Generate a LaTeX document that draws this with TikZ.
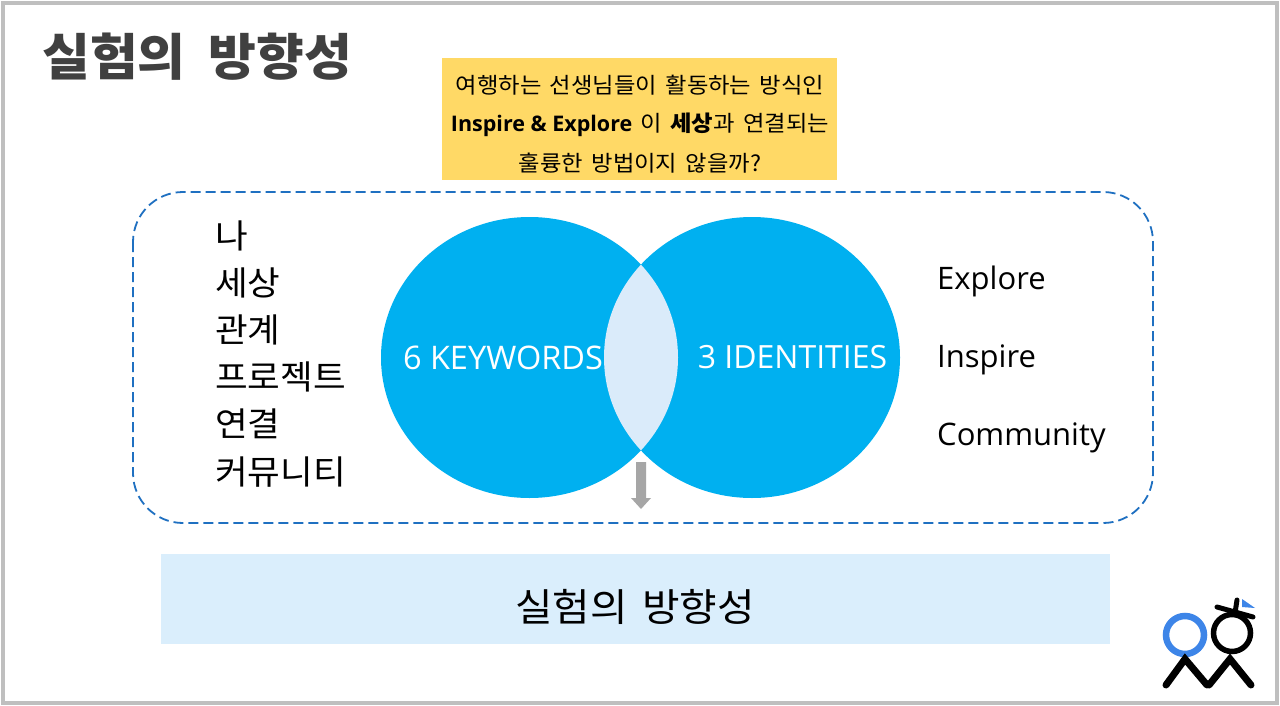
\documentclass[tikz,border=0pt]{standalone}
\usepackage{fontspec}
\usetikzlibrary{arrows.meta}
\setmainfont{Noto Sans CJK KR}
\newfontfamily\latinfont{Open Sans}
\newfontfamily\titlefont[FakeStretch=1.04,WordSpace=1.9]{Noto Sans CJK KR}
\newfontfamily\widefont[FakeStretch=1.06,WordSpace=1.6]{Noto Sans CJK KR}
\definecolor{titlegray}{HTML}{404040}
\definecolor{framegray}{HTML}{BFBFBF}
\definecolor{vennblue}{HTML}{00B0F0}
\definecolor{lensblue}{HTML}{DAEBFA}
\definecolor{bandblue}{HTML}{DAEEFC}
\definecolor{noteyellow}{HTML}{FFD966}
\definecolor{dashblue}{HTML}{1F70C1}
\definecolor{arrowgray}{HTML}{A6A6A6}
\definecolor{logoblue}{HTML}{3D85E8}
\tikzset{
  listitem/.style={anchor=west,inner sep=0pt,font=\widefont\fontsize{33.5}{33.5}\selectfont},
  engitem/.style={anchor=west,inner sep=0pt,font=\latinfont\fontsize{31}{31}\selectfont},
  vennlabel/.style={text=white,inner sep=0pt,font=\latinfont\fontsize{32}{32}\selectfont},
  noteline/.style={inner sep=0pt,font=\widefont\fontsize{22}{22}\selectfont},
  logoline/.style={line width=7pt,line cap=round},
}
\begin{document}
\begin{tikzpicture}[x=1pt,y=-1pt]
\useasboundingbox (0,0) rectangle (1280,706);
\fill[white] (0,0) rectangle (1280,706);
\draw[framegray,line width=4pt] (3,3) rectangle (1277,703);
\node[anchor=west,inner sep=0pt,text=titlegray,font=\titlefont\bfseries\fontsize{50}{50}\selectfont] (title) at (42,57) {실험의 방향성};
% yellow note
\fill[noteyellow] (442,58) rectangle (837,180);
\node[noteline] (n1) at (640,85) {여행하는 선생님들이 활동하는 방식인};
\node[noteline] (n2) at (640,125) {{\latinfont\bfseries\fontsize{21.5}{21.5}\selectfont Inspire \& Explore} 이 \textbf{세상}과 연결되는};
\node[noteline] (n3) at (640,163) {훌륭한 방법이지 않을까?};
% dashed box
\draw[dashblue,line width=1.8pt,dash pattern=on 10pt off 5pt,rounded corners=50pt] (133,192) rectangle (1153,523);
% venn
\fill[vennblue] (529.5,357.5) ellipse [x radius=148.5,y radius=140.5];
\fill[vennblue] (752,357.5) ellipse [x radius=148,y radius=140.5];
\begin{scope}
\clip (529.5,357.5) ellipse [x radius=148.5,y radius=140.5];
\fill[lensblue] (752,357.5) ellipse [x radius=148,y radius=140.5];
\end{scope}
\node[vennlabel,font=\latinfont\fontsize{32.5}{32.5}\selectfont] (k) at (503,358) {6 KEYWORDS};
\node[vennlabel] (i) at (792.5,357) {3 IDENTITIES};
% lists
\node[listitem] (a1) at (215,236) {나};
\node[listitem] (a2) at (215,283) {세상};
\node[listitem] (a3) at (215,330) {관계};
\node[listitem] (a4) at (215,377) {프로젝트};
\node[listitem] (a5) at (215,424) {연결};
\node[listitem] (a6) at (215,472) {커뮤니티};
\node[engitem] (e1) at (937,281) {Explore};
\node[engitem] (e2) at (937,360) {Inspire};
\node[engitem] (e3) at (937,438) {Community};
% arrow
\fill[arrowgray] (636,462) -- (646,462) -- (646,498) -- (651,498) -- (641,509) -- (631,498) -- (636,498) -- cycle;
% band
\fill[bandblue] (161,554) rectangle (1110,644);
\node[inner sep=0pt,font=\widefont\fontsize{38.5}{38.5}\selectfont] (b) at (635,607) {실험의 방향성};
% logo
\draw[logoblue,line width=6.5pt] (1185,635) circle (19);
\draw[black,line width=5.5pt] (1232,633) circle (18.5);
\draw[logoline] (1166,685) -- (1185,659) -- (1207,685);
\draw[logoline] (1209,685) -- (1230,659) -- (1251,685);
\draw[black,line width=5pt,line cap=round] (1217,607) -- (1253,617);
\draw[black,line width=5pt,line cap=round] (1237,600) -- (1235,613);
\fill[logoblue] (1242,599) -- (1255,608) -- (1242,607) -- cycle;
\end{tikzpicture}
\end{document}
